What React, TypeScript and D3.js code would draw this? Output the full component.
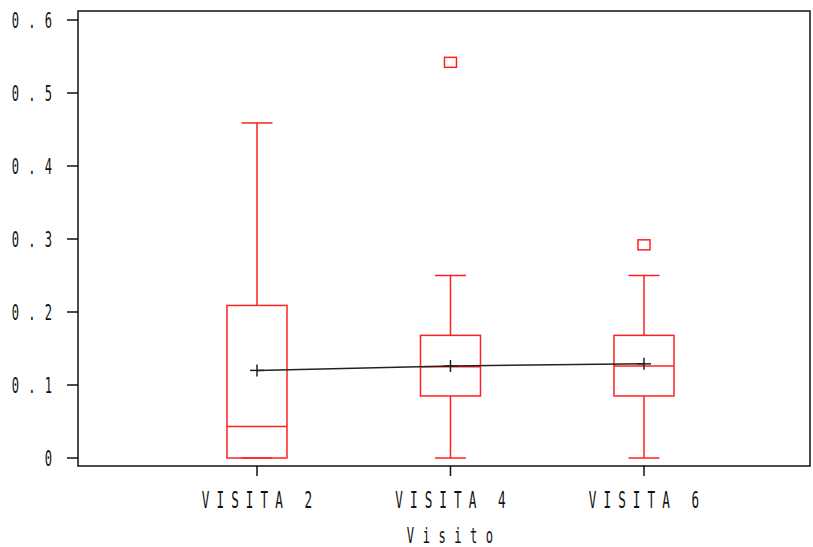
import React from "react";
import * as d3 from "d3";

const categories = ["VISITA 2", "VISITA 4", "VISITA 6"];
const whiskerLow = [0, 0, 0];
const q1 = [0, 0.085, 0.085];
const median = [0.043, 0.125, 0.126];
const q3 = [0.209, 0.168, 0.168];
const whiskerHigh = [0.459, 0.25, 0.25];
const means = [0.12, 0.126, 0.129];
const outliers = [[], [0.542], [0.292]];
const yTicks = [0, 0.1, 0.2, 0.3, 0.4, 0.5, 0.6];
const yTickLabels = ["0", "0.1", "0.2", "0.3", "0.4", "0.5", "0.6"];
const xTitle = "Visito";

const W = 813;
const H = 547;
const L = 78, R = 810, T = 11, B = 466;
const RED = "#ff2020";
const FONT = "'DejaVu Sans Mono', monospace";

function CondText({ x, y, text, size, sx, pitch, anchor }: { x: number; y: number; text: string; size: number; sx: number; pitch: number; anchor: "middle" | "end" }) {
  const adv = 0.602 * size;
  const ls = pitch / sx - adv;
  const off = anchor === "end" ? ls : ls / 2;
  return (
    <g transform={`translate(${x},${y}) scale(${sx},1)`}>
      <text x={off} y={0} fontFamily={FONT} fontSize={size} letterSpacing={ls} textAnchor={anchor} fill="#111">
        {text}
      </text>
    </g>
  );
}

export default function App() {
  const x = d3.scaleLinear().domain([-0.925, 2.858]).range([L, R]);
  const y = d3.scaleLinear().domain([(458 - 466) / 730, (458 - 11) / 730]).range([B, T]);
  const boxW = 60;
  const capW = 31;
  const line = d3.line<number>().x((_, i) => x(i)).y((d) => y(d));

  return (
    <svg width={W} height={H} style={{ position: "absolute", left: 0, top: 0, background: "#fff" }}>
      <rect x={0} y={0} width={W} height={H} fill="#fff" />
      {categories.map((c, i) => {
        const cx = x(i);
        return (
          <g key={c} stroke={RED} strokeWidth={1.5} fill="none">
            <line x1={cx} x2={cx} y1={y(q3[i])} y2={y(whiskerHigh[i])} />
            <line x1={cx} x2={cx} y1={y(q1[i])} y2={y(whiskerLow[i])} />
            <line x1={cx - capW / 2} x2={cx + capW / 2} y1={y(whiskerHigh[i])} y2={y(whiskerHigh[i])} />
            <line x1={cx - capW / 2} x2={cx + capW / 2} y1={y(whiskerLow[i])} y2={y(whiskerLow[i])} />
            <rect x={cx - boxW / 2} y={y(q3[i])} width={boxW} height={y(q1[i]) - y(q3[i])} />
            <line x1={cx - boxW / 2} x2={cx + boxW / 2} y1={y(median[i])} y2={y(median[i])} />
            {outliers[i].map((o, j) => (
              <rect key={j} x={cx - 6} y={y(o) - 5} width={12} height={10} />
            ))}
          </g>
        );
      })}
      <path d={line(means) || ""} stroke="#222" strokeWidth={1.5} fill="none" />
      {means.map((m, i) => (
        <g key={i} stroke="#222" strokeWidth={1.5}>
          <line x1={x(i) - 7} x2={x(i) + 7} y1={y(m)} y2={y(m)} />
          <line x1={x(i)} x2={x(i)} y1={y(m) - 6} y2={y(m) + 6} />
        </g>
      ))}
      <rect x={L} y={T} width={R - L} height={B - T} fill="none" stroke="#111" strokeWidth={1.5} />
      {yTicks.map((t, i) => (
        <g key={t}>
          <line x1={L - 11} x2={L} y1={y(t)} y2={y(t)} stroke="#111" strokeWidth={1.5} />
          <CondText x={52} y={y(t) + 8} text={yTickLabels[i]} size={22} sx={0.55} pitch={16.5} anchor="end" />
        </g>
      ))}
      {categories.map((c, i) => (
        <g key={c}>
          <line x1={x(i)} x2={x(i)} y1={B} y2={B + 10} stroke="#111" strokeWidth={1.5} />
          <CondText x={x(i)} y={508} text={c} size={23} sx={0.55} pitch={14.7} anchor="middle" />
        </g>
      ))}
      <CondText x={450} y={543} text={xTitle} size={22} sx={0.55} pitch={15.8} anchor="middle" />
    </svg>
  );
}
